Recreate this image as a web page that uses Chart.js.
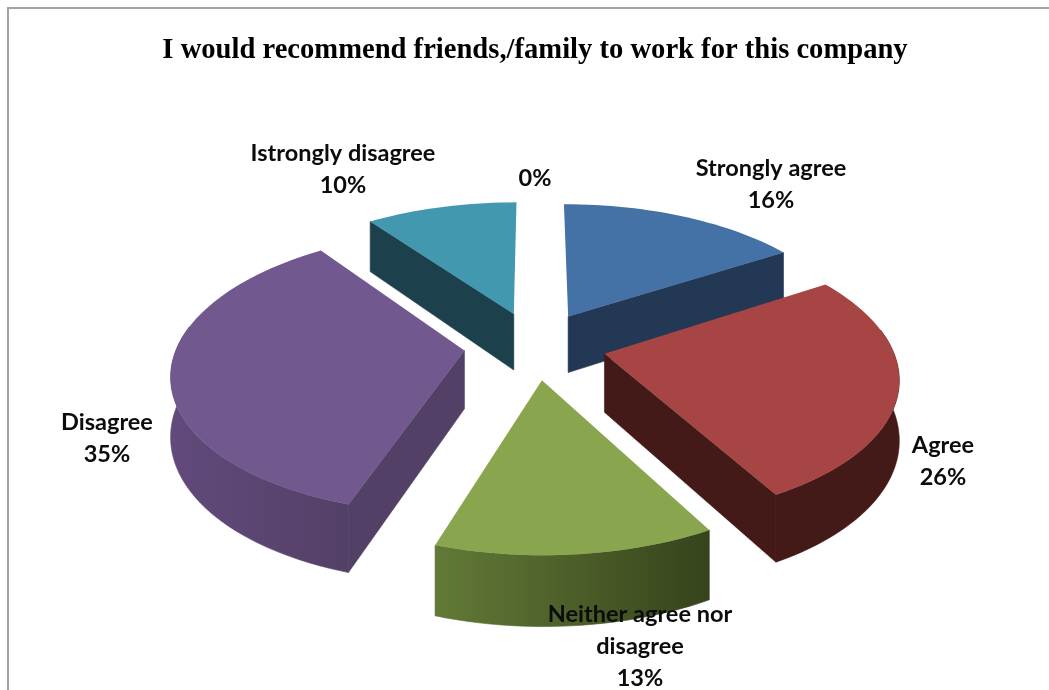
<!DOCTYPE html>
<html>
<head>
<meta charset="utf-8">
<script src="https://cdn.jsdelivr.net/npm/chart.js@4"></script>
<style>
    html, body { margin: 0; padding: 0; background: #fff; overflow: hidden; }
    #frame { position: absolute; left: 7px; top: 7px; right: 0; bottom: 0; border-top: 2px solid #a3a3a3; border-left: 2px solid #a3a3a3; }
    canvas { position: absolute; left: 0; top: 0; }
</style>
</head>
<body>
<div id="frame"></div>
<canvas id="PieChart" width="1049" height="690"></canvas>
<script>
const chartTitle = "I would recommend friends,/family to work for this company"
const categories = ["Strongly agree", "Agree", "Neither agree nor disagree", "Disagree", "Istrongly disagree", ""]
const percents = [16, 26, 13, 35, 10, 0]

const topColours = ["#4472a6", "#a64543", "#89a54e", "#71588f", "#4198af", "#f79646"]
// wall colours, first is the left end of the curved wall, second the right end
const wallColours = [["#233854", "#233854"], ["#431a18", "#431a18"], ["#627a36", "#36431c"],
    ["#614a7c", "#534066"], ["#1c404c", "#1c404c"], ["#000", "#000"]]

// text rows and where each label is centred
const labelRows = [["Strongly agree", "16%"], ["Agree", "26%"], ["Neither agree nor", "disagree", "13%"],
    ["Disagree", "35%"], ["Istrongly disagree", "10%"], ["0%"]]
const labelSpots = [[771, 168], [943, 445], [640, 614], [107, 422], [343, 153], [535, 178]]

// camera for the tilted pie
const view = {width: 287, height: 137, depth: 58, perspective: 0.15}
// back to front
const drawOrder = [0, 4, 5, 1, 3, 2]

function project(arc, x, y, z) {
    const den = 1 + view.perspective * y
    return [arc.x + view.width * x / den, arc.y - view.height * y / den + view.depth * z / den]
}

function sliceOutline(arc) {
    const e = arc.options.offset / 4 / arc.outerRadius
    const mid = (arc.startAngle + arc.endAngle) / 2
    const ox = e * Math.cos(mid), oy = -e * Math.sin(mid)
    const rim = [], frontRim = []
    const steps = Math.max(2, Math.ceil((arc.endAngle - arc.startAngle) * 30))
    for (let i = 0; i <= steps; i++) {
        const a = arc.startAngle + (arc.endAngle - arc.startAngle) * i / steps
        const p = [ox + Math.cos(a), oy - Math.sin(a)]
        rim.push(p)
        // the far side of the rim faces away and gets no wall
        if (-Math.sin(a) < 0.2) frontRim.push(p)
    }
    return {apex: [ox, oy], rim: rim, frontRim: frontRim}
}

function fillPoly(ctx, pts, fill, seam) {
    ctx.beginPath()
    pts.forEach((p, i) => i ? ctx.lineTo(p[0], p[1]) : ctx.moveTo(p[0], p[1]))
    ctx.closePath()
    ctx.fillStyle = fill
    ctx.fill()
    if (seam) {
        ctx.strokeStyle = fill
        ctx.lineWidth = 0.6
        ctx.stroke()
    }
}

function drawSlice(ctx, arc, walls) {
    const {apex, rim, frontRim} = sliceOutline(arc)
    const up = p => project(arc, p[0], p[1], 0)
    const down = p => project(arc, p[0], p[1], 1)
    const first = rim[0], last = rim[rim.length - 1]
    const tip = up(apex)

    // a straight wall only shows when its top edge runs away from the slice
    if (up(first)[0] - tip[0] < -8) {
        fillPoly(ctx, [tip, up(first), down(first), down(apex)], walls[1], true)
    }
    if (up(last)[0] - tip[0] > 8) {
        fillPoly(ctx, [tip, up(last), down(last), down(apex)], walls[1], true)
    }

    if (frontRim.length > 1) {
        const xs = frontRim.map(p => up(p)[0])
        const grad = ctx.createLinearGradient(Math.min(...xs), 0, Math.max(...xs), 0)
        grad.addColorStop(0, walls[0])
        grad.addColorStop(1, walls[1])
        fillPoly(ctx, frontRim.map(up).concat(frontRim.slice().reverse().map(down)), grad, true)
    }

    fillPoly(ctx, [tip].concat(rim.map(up)), arc.options.backgroundColor, false)
}

const tiltedPie = {
    id: 'tiltedPie',
    beforeDatasetDraw(chart, args) {
        const ctx = chart.ctx
        const arcs = args.meta.data
        ctx.save()
        drawOrder.forEach(i => {
            if (arcs[i].circumference > 0) drawSlice(ctx, arcs[i], wallColours[i])
        })
        ctx.restore()
        return false
    },
    afterDraw(chart) {
        const ctx = chart.ctx
        ctx.save()
        ctx.font = "bold 23.5px Lato"
        ctx.fillStyle = "#0c0c0c"
        ctx.textAlign = "center"
        ctx.textBaseline = "middle"
        labelRows.forEach((rows, i) => {
            rows.forEach((row, j) => ctx.fillText(row, labelSpots[i][0], labelSpots[i][1] + j * 32))
        })
        ctx.restore()
    }
}

new Chart(document.getElementById('PieChart'), {
    type: 'pie',
    data: {
        labels: categories,
        datasets: [{data: percents, backgroundColor: topColours, borderWidth: 0, offset: 198}]
    },
    options: {
        responsive: false,
        animation: false,
        radius: 200,
        layout: {padding: {left: 21, bottom: 67}},
        events: [],
        plugins: {
            legend: {display: false},
            tooltip: {enabled: false},
            title: {
                display: true,
                text: chartTitle,
                color: "#000",
                font: {family: "'Liberation Serif'", size: 28.6, weight: 'bold', lineHeight: 1.2},
                padding: {top: 33, bottom: 0}
            }
        }
    },
    plugins: [tiltedPie]
})
</script>
</body>
</html>
